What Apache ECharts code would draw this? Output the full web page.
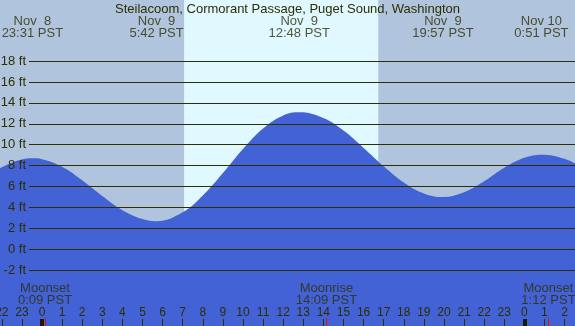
<!DOCTYPE html>
<html>
<head>
<meta charset="utf-8">
<script src="https://cdn.jsdelivr.net/npm/echarts@6/dist/echarts.min.js"></script>
<style>
  html, body { margin: 0; padding: 0; }
  #chart { width: 575px; height: 326px; }
</style>
</head>
<body>
<div id="chart"></div>
<script>
// tide curve, hours from midnight Nov 9 (PST) and height in ft
const tideHours = [-3, -2, -1, -0.48, 0, 1, 2, 3, 4, 5, 5.7, 7, 8, 9, 10, 11, 12, 12.8, 14, 15, 16, 17, 18, 19, 19.95, 21, 22, 23, 24, 24.85, 26, 27];
const tideFeet  = [6.6, 7.85, 8.6, 8.7, 8.62, 7.9, 6.6, 5.1, 3.75, 2.9, 2.7, 3.55, 5.15, 7.3, 9.6, 11.55, 12.8, 13.1, 12.55, 11.35, 9.7, 7.95, 6.4, 5.35, 5.0, 5.45, 6.5, 7.8, 8.75, 9.05, 8.65, 7.7];

// high / low tide labels
const eventHours = [-0.48, 5.7, 12.8, 19.95, 24.85];
const eventDates = ['Nov  8', 'Nov  9', 'Nov  9', 'Nov  9', 'Nov 10'];
const eventClock = ['23:31 PST', '5:42 PST', '12:48 PST', '19:57 PST', '0:51 PST'];

// moon rise / set
const moonHours = [0.15, 14.15, 25.2];
const moonNames = ['Moonset', 'Moonrise', 'Moonset'];
const moonClock = ['0:09 PST', '14:09 PST', '1:12 PST'];

// sunrise, sunset
const daylight = [7.07, 16.73];

// bottom hour axis
const hourTicks  = [-2, -1, 0, 1, 2, 3, 4, 5, 6, 7, 8, 9, 10, 11, 12, 13, 14, 15, 16, 17, 18, 19, 20, 21, 22, 23, 24, 25, 26];
const hourLabels = ['22', '23', '0', '1', '2', '3', '4', '5', '6', '7', '8', '9', '10', '11', '12', '13', '14', '15', '16', '17', '18', '19', '20', '21', '22', '23', '0', '1', '2'];
const midnights  = [0, 24];

const TXT = '#2e2e00';
const X_MIN = -2.09, X_MAX = 26.52;

const chart = echarts.init(document.getElementById('chart'));

const option = {
  backgroundColor: '#b0c4de',
  animation: false,
  textStyle: { fontFamily: 'Liberation Sans' },
  title: {
    text: 'Steilacoom, Cormorant Passage, Puget Sound, Washington',
    left: 'center',
    top: -2,
    textStyle: { fontSize: 13, fontWeight: 'normal', color: TXT }
  },
  grid: [
    { left: 0, right: 0, top: 0, bottom: 0, outerBoundsMode: 'none' },        // tide area
    { left: 29, right: 0, top: 61, bottom: 55.7, outerBoundsMode: 'none' },   // ft grid lines
    { left: 0, right: 0, bottom: 0, height: 20, outerBoundsMode: 'none' }     // hour ticks
  ],
  xAxis: [
    { gridIndex: 0, type: 'value', min: X_MIN, max: X_MAX, show: false },
    { gridIndex: 1, type: 'value', min: 0, max: 1, show: false },
    {
      gridIndex: 2, type: 'value', position: 'bottom', min: X_MIN, max: X_MAX, z: 5,
      axisLine: { show: false },
      splitLine: { show: false },
      axisTick: { inside: true, length: 7, customValues: hourTicks, lineStyle: { color: TXT, width: 1 } },
      axisLabel: {
        inside: true, margin: 7, customValues: hourTicks, fontSize: 12, color: TXT,
        alignMinLabel: 'center', alignMaxLabel: 'center',
        formatter: v => hourLabels[hourTicks.indexOf(v)]
      }
    },
    {
      gridIndex: 2, type: 'value', position: 'bottom', min: X_MIN, max: X_MAX, z: 6,
      axisLine: { show: false }, splitLine: { show: false }, axisLabel: { show: false },
      axisTick: { inside: true, length: 7, customValues: midnights, lineStyle: { color: '#1a1a00', width: 4 } }
    },
    {
      gridIndex: 2, type: 'value', position: 'bottom', min: X_MIN, max: X_MAX, z: 7,
      axisLine: { show: false }, splitLine: { show: false }, axisLabel: { show: false },
      axisTick: { inside: true, length: 8, customValues: moonHours, lineStyle: { color: '#ff0000', width: 1 } }
    }
  ],
  yAxis: [
    { gridIndex: 0, type: 'value', min: -7.32, max: 23.83, show: false },
    {
      gridIndex: 1, type: 'value', min: -2, max: 18, interval: 2, z: 5,
      axisLine: { show: false }, axisTick: { show: false },
      splitLine: { show: true, lineStyle: { color: TXT, width: 1 } },
      axisLabel: { margin: 3, fontSize: 13, color: TXT, formatter: '{value} ft' }
    },
    { gridIndex: 2, type: 'value', min: 0, max: 1, show: false }
  ],
  series: [
    {
      type: 'line',
      xAxisIndex: 0, yAxisIndex: 0,
      data: tideHours.map((t, i) => [t, tideFeet[i]]),
      smooth: 0.4,
      symbol: 'none',
      lineStyle: { width: 0 },
      areaStyle: { color: '#4262d6', opacity: 1, origin: 'start' },
      z: 2,
      markArea: {
        silent: true,
        itemStyle: { color: '#e0f8ff' },
        data: [[{ xAxis: daylight[0] }, { xAxis: daylight[1] }]]
      }
    },
    {
      type: 'scatter',
      xAxisIndex: 0, yAxisIndex: 0,
      symbolSize: 0,
      z: 10,
      data: eventHours.map((t, i) => ({ value: [t, 21.25], date: eventDates[i], clock: eventClock[i] })),
      label: {
        show: true, position: 'inside', fontSize: 13, lineHeight: 12, color: TXT,
        formatter: p => p.data.date + '\n' + p.data.clock
      }
    },
    {
      type: 'scatter',
      xAxisIndex: 0, yAxisIndex: 0,
      symbolSize: 0,
      z: 10,
      data: moonHours.map((t, i) => ({ value: [t, -4.31], name: moonNames[i], clock: moonClock[i] })),
      label: {
        show: true, position: 'inside', fontSize: 13, lineHeight: 12, color: TXT,
        formatter: p => p.data.name + '\n' + p.data.clock
      }
    }
  ]
};

chart.setOption(option);
</script>
</body>
</html>
